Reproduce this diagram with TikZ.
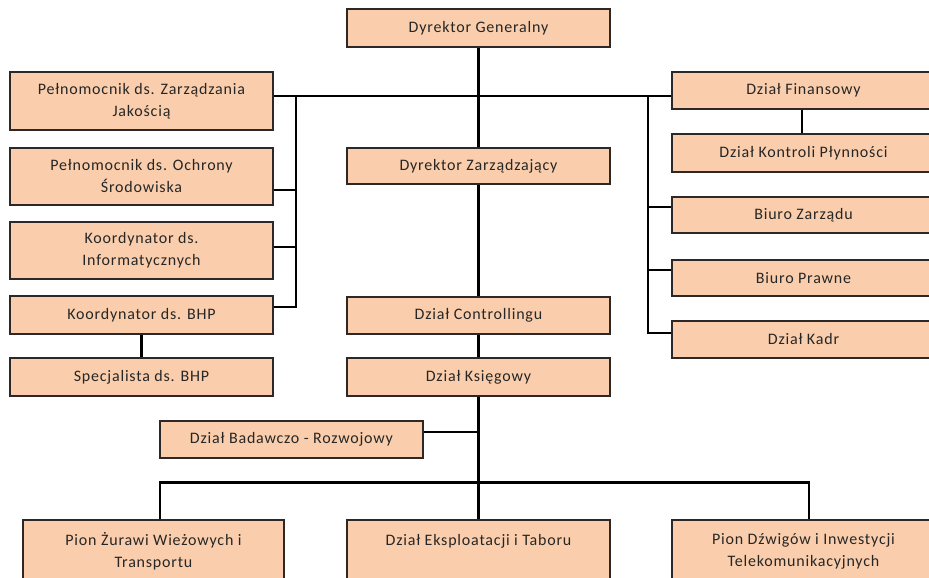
\documentclass[tikz,border=0pt]{standalone}
\usepackage{fontspec}
\setmainfont[LetterSpace=5]{Carlito}
\definecolor{peach}{RGB}{250,206,172}
\definecolor{boxline}{RGB}{45,40,38}
\begin{document}
\begin{tikzpicture}[x=1pt,y=-1pt,
  box/.style={draw=boxline, line width=1.1pt, fill=peach, minimum width=263pt,
    align=center, inner sep=2pt, text=black!85,
    font=\fontsize{16}{22}\selectfont},
  conn/.style={line width=2.8pt, line join=miter}]
\useasboundingbox (0,0) rectangle (929,578);
\clip (0,0) rectangle (929,578);
% top / centre column
\node[box, minimum height=38pt] (dg) at (478.5,28) {Dyrektor Generalny};
\node[box, minimum height=36pt] (dz) at (478.5,166) {Dyrektor Zarządzający};
\node[box, minimum height=37pt] (dc) at (478.5,315.5) {Dział Controllingu};
\node[box, minimum height=38pt] (dk) at (478.5,377) {Dział Księgowy};
\node[box, minimum height=37pt] (dbr) at (291.5,439.5) {Dział Badawczo - Rozwojowy};
% left column
\node[box, minimum height=58pt] (pzj) at (141.5,101) {Pełnomocnik ds. Zarządzania\\Jakością};
\node[box, minimum height=57pt] (pos) at (141.5,176.5) {Pełnomocnik ds. Ochrony\\Środowiska};
\node[box, minimum height=57pt] (kinf) at (141.5,250.5) {Koordynator ds.\\Informatycznych};
\node[box, minimum height=38pt] (kbhp) at (141.5,315) {Koordynator ds. BHP};
\node[box, minimum height=38pt] (sbhp) at (141.5,377) {Specjalista ds. BHP};
% right column
\node[box, minimum height=37pt] (df) at (803.5,90.5) {Dział Finansowy};
\node[box, minimum height=38pt] (dkp) at (803.5,153) {Dział Kontroli Płynności};
\node[box, minimum height=36pt] (bz) at (803.5,215) {Biuro Zarządu};
\node[box, minimum height=36pt] (bp) at (803.5,278) {Biuro Prawne};
\node[box, minimum height=37pt] (dkadr) at (803.5,339.5) {Dział Kadr};
% bottom row
\node[box, minimum width=261pt, minimum height=62pt] (pz) at (153.5,551) {Pion Żurawi Wieżowych i\\Transportu};
\node[box, minimum height=62pt] (de) at (478.5,551) {Dział Eksploatacji i Taboru\\\phantom{X}};
\node[box, minimum height=62pt] (pd) at (803.5,551) {Pion Dźwigów i Inwestycji\\Telekomunikacyjnych};
% junction coordinates
\coordinate (lj) at (296,96);
\coordinate (rj) at (648,96);
% connectors
\draw[conn] (dg.south) -- (dz.north);
\draw[conn] (pzj.east |- lj) -- (df.west |- lj);
\draw[conn] (lj) |- ([yshift=-13.5pt]pos.east);
\draw[conn] (lj) |- ([yshift=3.5pt]kinf.east);
\draw[conn] (lj) |- ([yshift=8pt]kbhp.east);
\draw[conn] (kbhp.south) -- (sbhp.north);
\draw[conn] (rj) |- ([yshift=8pt]bz.east -| bz.west);
\draw[conn] (rj) |- ([yshift=8pt]bp.east -| bp.west);
\draw[conn] (rj) |- ([yshift=6.5pt]dkadr.east -| dkadr.west);
\draw[conn] ([xshift=-1.5pt]df.south) -- ([xshift=-1.5pt]dkp.north);
\draw[conn] (dz.south) -- (dc.north);
\draw[conn] (dc.south) -- (dk.north);
\draw[conn] (dk.south) -- (de.north);
\draw[conn] ([yshift=7.5pt]dbr.east) -| (dk.south);
\draw[conn] ([xshift=6.5pt]pz.north) -- ++(0,-37) -| ([xshift=5.5pt]pd.north);
\end{tikzpicture}
\end{document}
